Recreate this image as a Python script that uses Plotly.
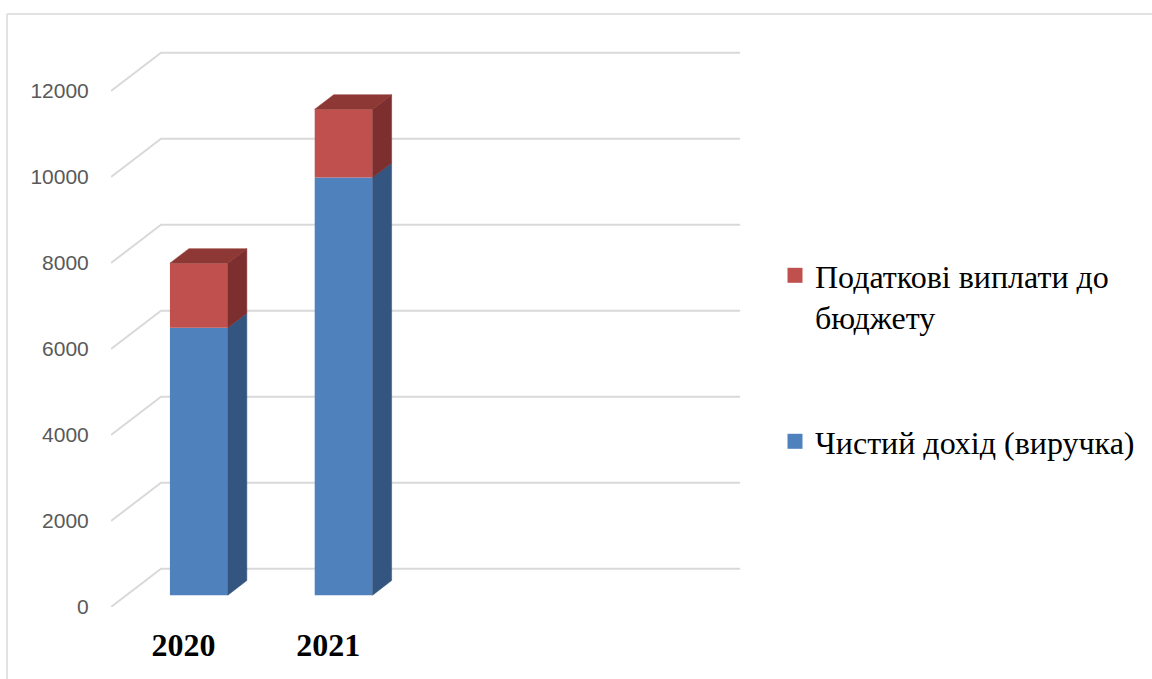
import plotly.graph_objects as go

# ---------------- data ----------------
categories = ["2020", "2021"]
revenue = [6220, 9710]          # Чистий дохід (виручка)
taxes = [1500, 1590]            # Податкові виплати до бюджету
y_ticks = [0, 2000, 4000, 6000, 8000, 10000, 12000]
n_slots = 4                     # category slots on the floor (2 empty)
series_names = ["Податкові виплати до<br>бюджету", "Чистий дохід (виручка)"]

# ---------------- style / pseudo-3D geometry ----------------
DX = 0.3454      # depth shift in x units
DY = 890         # depth shift in value units
F1, F2 = 0.31, 0.69
W = 0.40
BLUE, BLUE_SIDE = "#4F81BD", "#34557F"
RED, RED_SIDE, RED_TOP = "#C0504D", "#7C2F2E", "#8E3835"
GRID = "#D9D9D9"

fig = go.Figure()

xc = [i + F1 * DX for i in range(len(categories))]
base0 = F1 * DY
dx = (F2 - F1) * DX
dy = (F2 - F1) * DY

# front faces
fig.add_trace(go.Bar(x=xc, y=revenue, base=[base0] * len(revenue), width=W,
                     marker=dict(color=BLUE, line=dict(width=0)), showlegend=False,
                     hoverinfo="skip"))
fig.add_trace(go.Bar(x=xc, y=taxes, base=[base0 + r for r in revenue], width=W,
                     marker=dict(color=RED, line=dict(width=0)), showlegend=False,
                     hoverinfo="skip"))

# side + top faces
for i, x in enumerate(xc):
    xr = x + W / 2
    xl = x - W / 2
    segs = [(base0, base0 + revenue[i], BLUE_SIDE),
            (base0 + revenue[i], base0 + revenue[i] + taxes[i], RED_SIDE)]
    for b, t, col in segs:
        fig.add_trace(go.Scatter(
            x=[xr, xr + dx, xr + dx, xr, xr], y=[b, b + dy, t + dy, t, b],
            fill="toself", fillcolor=col, mode="lines", line=dict(width=0.5, color=col),
            showlegend=False, hoverinfo="skip"))
    T = base0 + revenue[i] + taxes[i]
    fig.add_trace(go.Scatter(
        x=[xl, xr, xr + dx, xl + dx, xl], y=[T, T, T + dy, T + dy, T],
        fill="toself", fillcolor=RED_TOP, mode="lines", line=dict(width=0.5, color=RED_TOP),
        showlegend=False, hoverinfo="skip"))

# legend entries
fig.add_trace(go.Scatter(x=[None], y=[None], mode="markers", name=series_names[0],
                         marker=dict(symbol="square", size=15, color=RED), legend="legend"))
fig.add_trace(go.Scatter(x=[None], y=[None], mode="markers", name=series_names[1],
                         marker=dict(symbol="square", size=15, color=BLUE), legend="legend2"))

# gridlines (back wall + side wall) as shapes below traces
shapes = []
for v in y_ticks:
    shapes.append(dict(type="path", xref="x", yref="y", layer="below",
                       path=f"M{-0.5},{v} L{-0.5 + DX},{v + DY} L{n_slots - 0.5 + DX},{v + DY}",
                       line=dict(color=GRID, width=2)))
# chart frame
shapes.append(dict(type="line", xref="paper", yref="paper", x0=(7 - 111) / 637, x1=(7 - 111) / 637,
                   y0=(607 - 14) / 582, y1=-0.2, line=dict(color=GRID, width=1.5)))
shapes.append(dict(type="line", xref="paper", yref="paper", x0=(7 - 111) / 637, x1=2.0,
                   y0=(607 - 14) / 582, y1=(607 - 14) / 582, line=dict(color=GRID, width=1.5)))

legend_common = dict(xanchor="left", yanchor="top", bgcolor="rgba(0,0,0,0)",
                     font=dict(family="Liberation Serif", size=32, color="black"),
                     itemsizing="trace", valign="top")

fig.update_layout(
    width=1152, height=679,
    margin=dict(l=111, r=404, t=25, b=72),
    paper_bgcolor="white", plot_bgcolor="white",
    barmode="overlay",
    shapes=shapes,
    xaxis=dict(range=[-0.5, 3.9], tickvals=list(range(len(categories))), ticktext=categories,
               showgrid=False, zeroline=False, showline=False,
               ticks="outside", ticklen=10, tickcolor="rgba(0,0,0,0)",
               tickfont=dict(family="Liberation Serif", size=32, color="black", weight="bold")),
    yaxis=dict(range=[0, 582 / 0.043], tickvals=y_ticks, ticktext=[str(v) for v in y_ticks],
               showgrid=False, zeroline=False, showline=False,
               ticks="outside", ticklen=17, tickcolor="rgba(0,0,0,0)",
               tickfont=dict(family="Liberation Sans", size=21, color="#595959")),
    legend=dict(x=(775 - 111) / 637, y=(607 - 248) / 582, **legend_common),
    legend2=dict(x=(775 - 111) / 637, y=(607 - 414) / 582, **legend_common),
)

fig.write_html("out.html")
